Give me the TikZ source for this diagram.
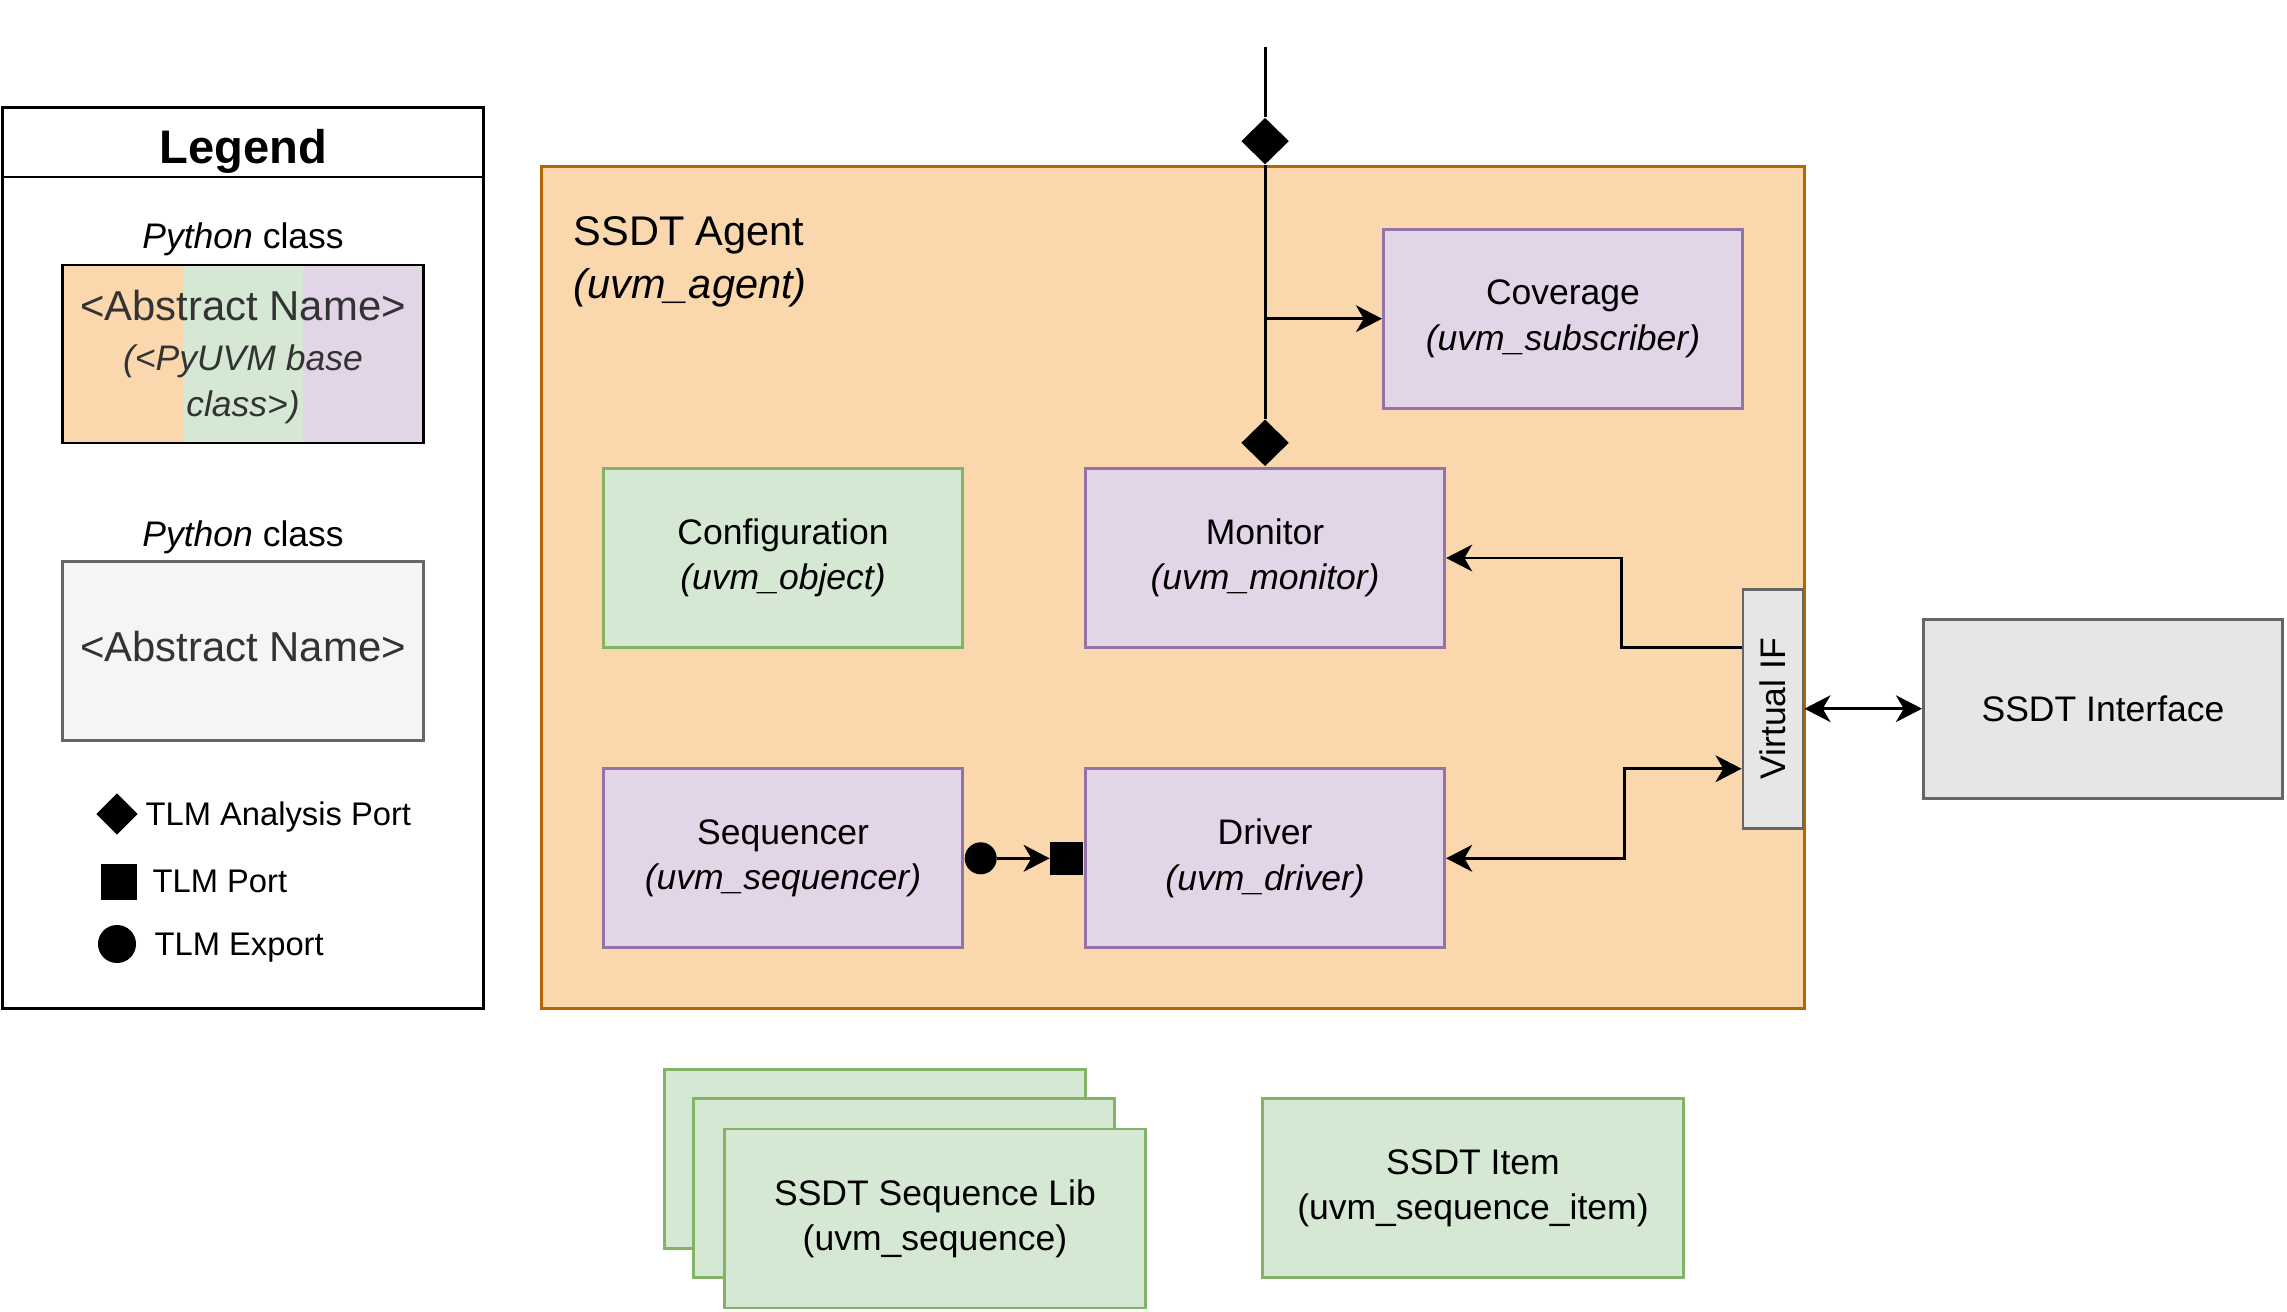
\documentclass[tikz,border=0pt]{standalone}
\usepackage{fontspec}
\setmainfont{Liberation Sans}
\usepackage{graphicx}
\usetikzlibrary{arrows.meta,positioning,shapes.geometric}

\definecolor{agentfill}{HTML}{FAD7AC}
\definecolor{agentline}{HTML}{B46504}
\definecolor{compfill}{HTML}{E1D5E7}
\definecolor{compline}{HTML}{9673A6}
\definecolor{objfill}{HTML}{D5E8D4}
\definecolor{objline}{HTML}{82B366}
\definecolor{iffill}{HTML}{E6E6E6}
\definecolor{legfill}{HTML}{F5F5F5}
\definecolor{greyline}{HTML}{666666}
\definecolor{greytext}{HTML}{333333}

\begin{document}
\begin{tikzpicture}[
  x=0.01cm, y=-0.01cm,
  font=\fontsize{10.1}{12.9}\selectfont,
  >={Stealth[length=7.4pt, width=7.6pt, inset=2.2pt]},
  comp/.style={rectangle, draw=compline, fill=compfill, thick, minimum width=3.59cm, minimum height=1.79cm, align=center},
  obj/.style={rectangle, draw=objline, fill=objfill, thick, minimum width=3.59cm, minimum height=1.79cm, align=center},
  seqlib/.style={obj, minimum width=4.2cm},
  iface/.style={rectangle, draw=greyline, fill=iffill, thick, minimum width=3.59cm, minimum height=1.79cm, align=center},
  aport/.style={diamond, fill=black, inner sep=0pt, minimum width=0.48cm, minimum height=0.47cm},
  tport/.style={rectangle, fill=black, inner sep=0pt, minimum size=0.33cm},
  texport/.style={circle, fill=black, inner sep=0pt, minimum size=0.32cm},
  arrow/.style={->, thick},
  biarrow/.style={<->, thick},
  legtext/.style={anchor=base west, inner sep=0pt, font=\fontsize{9.3}{11}\selectfont}
]
\useasboundingbox (0,0) rectangle (2287,1312);

% legend
\node[draw, thick, minimum width=4.8cm, minimum height=9cm] (legend) at (243,558) {};
\coordinate (legendBar) at (243,177);
\draw[thick] (legend.west |- legendBar) -- (legend.east |- legendBar);
\node[font=\bfseries\fontsize{13.4}{16}\selectfont] (legendTitle) at (243,151) {Legend};
\node (pyLabelA) at (243,239) {\textit{Python} class};
\fill[agentfill] (63,265) rectangle (183,443);
\fill[objfill] (183,265) rectangle (303,443);
\fill[compfill] (303,265) rectangle (423,443);
\node[draw, thick, minimum width=3.6cm, minimum height=1.78cm, text=greytext, align=center] (absMixed) at (243,354)
  {{\fontsize{11.9}{14}\selectfont\rule{0pt}{10.4pt}<Abstract Name>}\\[1.3pt]\textit{(<PyUVM base}\\\textit{class>)}};
\node (pyLabelB) at (243,537) {\textit{Python} class};
\node[iface, fill=legfill, text=greytext, minimum width=3.6cm, minimum height=1.795cm, text height=6pt, text depth=0pt, font=\fontsize{11.9}{14}\selectfont] (absPlain) at (243,651) {<Abstract Name>};
\node[aport, minimum width=0.42cm, minimum height=0.42cm] (keyAP) at (117,814) {};
\node[legtext] (keyAPText) at (145,825.5) {TLM Analysis Port};
\node[tport, minimum size=0.36cm] (keyPort) at (119,882) {};
\node[legtext] (keyPortText) at (152,892.5) {TLM Port};
\node[texport, minimum size=0.38cm] (keyExp) at (117,944) {};
\node[legtext] (keyExpText) at (154,955.5) {TLM Export};

% agent and its components
\node[draw=agentline, fill=agentfill, thick, minimum width=12.62cm, minimum height=8.41cm] (agent) at (1173,587.5) {};
\node[anchor=west, inner sep=0pt, align=left, font=\fontsize{11.8}{15}\selectfont] (agentTitle) at (573,262) {SSDT Agent\\\textit{(uvm\_agent)}};
\node[comp] (cov) at (1563,318.7) {Coverage\\\textit{(uvm\_subscriber)}};
\node[obj] (cfg) at (783,558) {Configuration\\\textit{(uvm\_object)}};
\node[comp, right=1.2cm of cfg] (mon) {Monitor\\\textit{(uvm\_monitor)}};
\node[comp] (seq) at (783,858.3) {Sequencer\\\textit{(uvm\_sequencer)}};
\node[comp, right=1.2cm of seq] (drv) {Driver\\\textit{(uvm\_driver)}};
\node[iface, minimum width=0.6cm, minimum height=2.39cm, inner sep=0pt] (vif) at (1773,708.7) {\rotatebox{90}{Virtual IF}};
\node[iface] (ssdtIf) at (2103,708.7) {SSDT Interface};

% ports
\coordinate (agentTop) at (agent.north -| mon.north);
\path (mon.north) ++(0,-420) coordinate (busTop);
\node[aport, above=0pt of agentTop] (agentAP) {};
\node[aport, above=0pt of mon] (monAP) {};
\node[texport, right=0pt of seq] (seqExp) {};
\node[tport, left=0pt of drv] (drvPort) {};

% connections
\draw[thick] (busTop) -- (agentAP);
\draw[thick] (agentAP) -- (monAP);
\draw[arrow] (agentAP.south |- cov.west) -- (cov.west);
\draw[arrow] ([yshift=0.61cm]vif.west) -- ++(-120,0) |- (mon.east);
\draw[biarrow] (drv.east) -- ++(178,0) |- ([yshift=-0.6cm]vif.west);
\draw[biarrow] (vif) -- (ssdtIf);
\draw[arrow] (seqExp) -- (drvPort);

% sequence library and item
\node[seqlib] (libBack) at (875,1158.7) {};
\node[seqlib] (libMid) at (904,1188) {};
\node[seqlib] (libFront) at (935,1218.5) {SSDT Sequence Lib\\(uvm\_sequence)};
\node[seqlib] (item) at (1473,1188) {SSDT Item\\(uvm\_sequence\_item)};
\end{tikzpicture}
\end{document}
